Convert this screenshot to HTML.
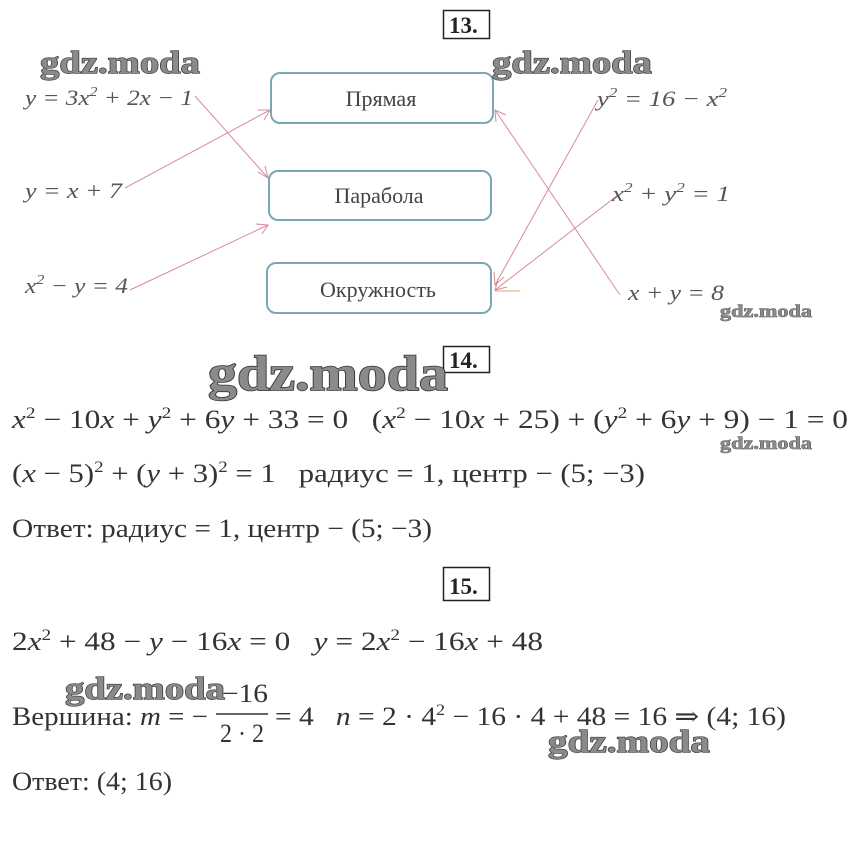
<!DOCTYPE html>
<html><head><meta charset="utf-8"><style>
html,body{margin:0;padding:0;background:#fff;}
svg{display:block;}
text{white-space:pre;}
.eq{font-family:"Liberation Serif",serif;font-style:italic;fill:#555;font-size:22px;}
.m{font-family:"Liberation Serif","DejaVu Serif",serif;fill:#333;font-size:26px;}
.wm{font-family:"Liberation Serif",serif;font-weight:bold;fill:#8a8a8a;stroke:#333;stroke-width:1.2px;paint-order:stroke;}
.lb{font-family:"Liberation Serif",serif;fill:#444;font-size:22px;}
.box{font-family:"Liberation Serif",serif;font-weight:bold;fill:#222;font-size:23px;}
</style></head><body>
<svg width="858" height="850" viewBox="0 0 858 850" xmlns="http://www.w3.org/2000/svg">
<rect x="443.5" y="10.5" width="46" height="28" fill="none" stroke="#222" stroke-width="1.5"/>
<text class="box" x="449" y="33">13.</text>
<rect x="443.5" y="346.5" width="46" height="26" fill="none" stroke="#222" stroke-width="1.5"/>
<text class="box" x="449" y="368">14.</text>
<rect x="443.5" y="567.5" width="46" height="33" fill="none" stroke="#222" stroke-width="1.5"/>
<text class="box" x="449" y="594">15.</text>

<rect x="271" y="73" width="222" height="50" rx="9" fill="none" stroke="#7aa7b5" stroke-width="2"/>
<rect x="269" y="171" width="222" height="49" rx="9" fill="none" stroke="#7aa7b5" stroke-width="2"/>
<rect x="267" y="263" width="224" height="50" rx="9" fill="none" stroke="#7aa7b5" stroke-width="2"/>
<text class="lb" x="381" y="106" text-anchor="middle">Прямая</text>
<text class="lb" x="379" y="203" text-anchor="middle">Парабола</text>
<text class="lb" x="378" y="297" text-anchor="middle">Окружность</text>

<g stroke="#d88a98" stroke-width="1" fill="none">
<line x1="195" y1="96" x2="268" y2="178"/><path d="M258 172 L268 178 L265 166"/>
<line x1="125" y1="188" x2="270" y2="110"/><path d="M258 110 L270 110 L264 120"/>
<line x1="130" y1="290" x2="268" y2="225"/><path d="M256 224 L268 225 L262 234"/>
<line x1="598" y1="100" x2="495" y2="285"/><path d="M494 272 L495 285 L504 277"/>
<line x1="618" y1="195" x2="495" y2="290"/><path d="M498 279 L495 290 L507 287"/>
<line x1="620" y1="295" x2="495" y2="110"/><path d="M496 122 L495 110 L506 115"/>
<line x1="495" y1="291" x2="520" y2="291" stroke="#e0a070"/>
</g>

<text class="eq" x="25" y="105" textLength="168" lengthAdjust="spacingAndGlyphs">y = 3x<tspan dy="-9" font-size="14">2</tspan><tspan dy="9"> + 2x − 1</tspan></text>
<text class="eq" x="25" y="198" textLength="97" lengthAdjust="spacingAndGlyphs">y = x + 7</text>
<text class="eq" x="25" y="293" textLength="103" lengthAdjust="spacingAndGlyphs">x<tspan dy="-9" font-size="14">2</tspan><tspan dy="9"> − y = 4</tspan></text>
<text class="eq" x="597" y="106" textLength="130" lengthAdjust="spacingAndGlyphs">y<tspan dy="-9" font-size="14">2</tspan><tspan dy="9"> = 16 − x</tspan><tspan dy="-9" font-size="14">2</tspan></text>
<text class="eq" x="612" y="201" textLength="118" lengthAdjust="spacingAndGlyphs">x<tspan dy="-9" font-size="14">2</tspan><tspan dy="9"> + y</tspan><tspan dy="-9" font-size="14">2</tspan><tspan dy="9"> = 1</tspan></text>
<text class="eq" x="628" y="300" textLength="96" lengthAdjust="spacingAndGlyphs">x + y = 8</text>

<text class="m" x="12" y="428" textLength="836" lengthAdjust="spacingAndGlyphs"><tspan font-style="italic">x</tspan><tspan dy="-10" font-size="16">2</tspan><tspan dy="10"> − 10</tspan><tspan font-style="italic">x</tspan> + <tspan font-style="italic">y</tspan><tspan dy="-10" font-size="16">2</tspan><tspan dy="10"> + 6</tspan><tspan font-style="italic">y</tspan> + 33 = 0   (<tspan font-style="italic">x</tspan><tspan dy="-10" font-size="16">2</tspan><tspan dy="10"> − 10</tspan><tspan font-style="italic">x</tspan> + 25) + (<tspan font-style="italic">y</tspan><tspan dy="-10" font-size="16">2</tspan><tspan dy="10"> + 6</tspan><tspan font-style="italic">y</tspan> + 9) − 1 = 0</text>
<text class="m" x="12" y="482" textLength="633" lengthAdjust="spacingAndGlyphs">(<tspan font-style="italic">x</tspan> − 5)<tspan dy="-10" font-size="16">2</tspan><tspan dy="10"> + (</tspan><tspan font-style="italic">y</tspan> + 3)<tspan dy="-10" font-size="16">2</tspan><tspan dy="10"> = 1   радиус = 1, центр − (5; −3)</tspan></text>
<text class="m" x="12" y="537" textLength="420" lengthAdjust="spacingAndGlyphs">Ответ: радиус = 1, центр − (5; −3)</text>

<text class="m" x="12" y="650" textLength="531" lengthAdjust="spacingAndGlyphs">2<tspan font-style="italic">x</tspan><tspan dy="-10" font-size="16">2</tspan><tspan dy="10"> + 48 − </tspan><tspan font-style="italic">y</tspan> − 16<tspan font-style="italic">x</tspan> = 0   <tspan font-style="italic">y</tspan> = 2<tspan font-style="italic">x</tspan><tspan dy="-10" font-size="16">2</tspan><tspan dy="10"> − 16</tspan><tspan font-style="italic">x</tspan> + 48</text>
<text class="m" x="12" y="725" textLength="196" lengthAdjust="spacingAndGlyphs">Вершина: <tspan font-style="italic">m</tspan> = −</text>
<text class="m" x="222" y="702" textLength="46" lengthAdjust="spacingAndGlyphs">−16</text>
<line x1="216" y1="714" x2="268" y2="714" stroke="#333" stroke-width="1.5"/>
<text class="m" x="220" y="742" textLength="44" lengthAdjust="spacingAndGlyphs">2 · 2</text>
<text class="m" x="275" y="725" textLength="511" lengthAdjust="spacingAndGlyphs">= 4   <tspan font-style="italic">n</tspan> = 2 · 4<tspan dy="-10" font-size="16">2</tspan><tspan dy="10"> − 16 · 4 + 48 = 16 ⇒ (4; 16)</tspan></text>
<text class="m" x="12" y="790" textLength="160" lengthAdjust="spacingAndGlyphs">Ответ: (4; 16)</text>

<text class="wm" x="40" y="73" font-size="32" textLength="160" lengthAdjust="spacingAndGlyphs">gdz.moda</text>
<text class="wm" x="492" y="73" font-size="32" textLength="160" lengthAdjust="spacingAndGlyphs">gdz.moda</text>
<text class="wm" x="720" y="317" font-size="18" textLength="92" lengthAdjust="spacingAndGlyphs" style="stroke-width:0.6px">gdz.moda</text>
<text class="wm" x="208" y="390" font-size="50" textLength="240" lengthAdjust="spacingAndGlyphs" style="stroke-width:1.6px">gdz.moda</text>
<text class="wm" x="720" y="449" font-size="18" textLength="92" lengthAdjust="spacingAndGlyphs" style="stroke-width:0.6px">gdz.moda</text>
<text class="wm" x="65" y="699" font-size="32" textLength="160" lengthAdjust="spacingAndGlyphs">gdz.moda</text>
<text class="wm" x="548" y="752" font-size="32" textLength="162" lengthAdjust="spacingAndGlyphs">gdz.moda</text>
</svg>
</body></html>
